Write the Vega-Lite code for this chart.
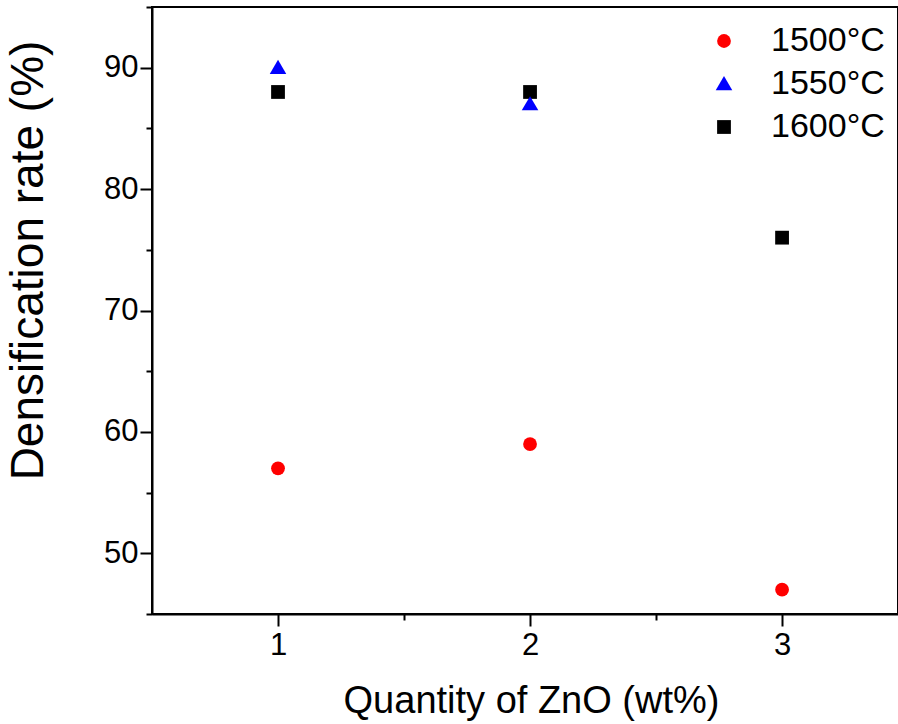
{
  "$schema": "https://vega.github.io/schema/vega-lite/v6.json",
  "autosize": {"type": "none"},
  "padding": {"left": 152, "top": 7, "right": 0, "bottom": 110},
  "width": 746,
  "height": 607,
  "background": "white",
  "config": {
    "font": "Liberation Sans",
    "view": {"stroke": "black", "strokeWidth": 2},
    "axis": {"grid": false, "domainColor": "black", "domainWidth": 2, "tickColor": "black", "tickWidth": 2, "labelColor": "black", "titleColor": "black", "labelFont": "Liberation Sans", "titleFont": "Liberation Sans", "titleFontWeight": "normal"}
  },
  "data": {
    "values": [
      {"zno": 1, "rate": 57, "temp": "1500°C"},
      {"zno": 2, "rate": 59, "temp": "1500°C"},
      {"zno": 3, "rate": 47, "temp": "1500°C"},
      {"zno": 1, "rate": 90, "temp": "1550°C"},
      {"zno": 2, "rate": 87, "temp": "1550°C"},
      {"zno": 1, "rate": 88, "temp": "1600°C"},
      {"zno": 2, "rate": 88, "temp": "1600°C"},
      {"zno": 3, "rate": 76, "temp": "1600°C"}
    ]
  },
  "layer": [
    {
      "mark": {"type": "point", "filled": true, "opacity": 1, "size": 190},
      "encoding": {
        "x": {
          "field": "zno", "type": "quantitative",
          "scale": {"domain": [0.5, 3.46], "nice": false, "zero": false},
          "axis": {"orient": "bottom", "values": [1, 2, 3], "format": "d", "tickSize": 12, "labelFontSize": 31, "labelPadding": 4, "title": "Quantity of ZnO (wt%)", "titleFontSize": 38, "titlePadding": 22, "titleX": 379, "titleAlign": "center"}
        },
        "y": {
          "field": "rate", "type": "quantitative",
          "scale": {"domain": [45, 95], "nice": false, "zero": false},
          "axis": {"orient": "left", "values": [50, 60, 70, 80, 90], "tickSize": 12, "labelFontSize": 31, "labelPadding": 2, "title": "Densification rate (%)", "titleFontSize": 46, "titleAngle": 270, "titleAlign": "center", "titleBaseline": "alphabetic", "titleX": -110, "titleY": 253}
        },
        "shape": {
          "field": "temp", "type": "nominal",
          "scale": {"domain": ["1500°C", "1550°C", "1600°C"], "range": ["circle", "M-1.2,0.9L1.2,0.9L0,-1.15Z", "square"]},
          "legend": {"title": null, "orient": "none", "legendX": 555, "legendY": 17, "labelFontSize": 34, "labelColor": "black", "symbolSize": 190, "rowPadding": 9, "labelOffset": 30, "symbolOpacity": 1}
        },
        "color": {
          "field": "temp", "type": "nominal",
          "scale": {"domain": ["1500°C", "1550°C", "1600°C"], "range": ["#ff0000", "#0000ff", "#000000"]},
          "legend": {"title": null, "orient": "none", "legendX": 555, "legendY": 17, "labelFontSize": 34, "labelColor": "black", "symbolSize": 190, "rowPadding": 9, "labelOffset": 30, "symbolOpacity": 1}
        },
        "order": {"field": "temp", "sort": "descending"}
      }
    },
    {
      "mark": {"type": "point", "opacity": 0},
      "encoding": {
        "x": {"field": "zno", "type": "quantitative", "axis": {"orient": "bottom", "values": [1.5, 2.5], "labels": false, "domain": false, "tickSize": 6, "title": null}},
        "y": {"field": "rate", "type": "quantitative", "axis": {"orient": "left", "values": [45, 55, 65, 75, 85, 95], "labels": false, "domain": false, "tickSize": 6, "title": null}}
      }
    }
  ],
  "resolve": {"axis": {"x": "independent", "y": "independent"}}
}
